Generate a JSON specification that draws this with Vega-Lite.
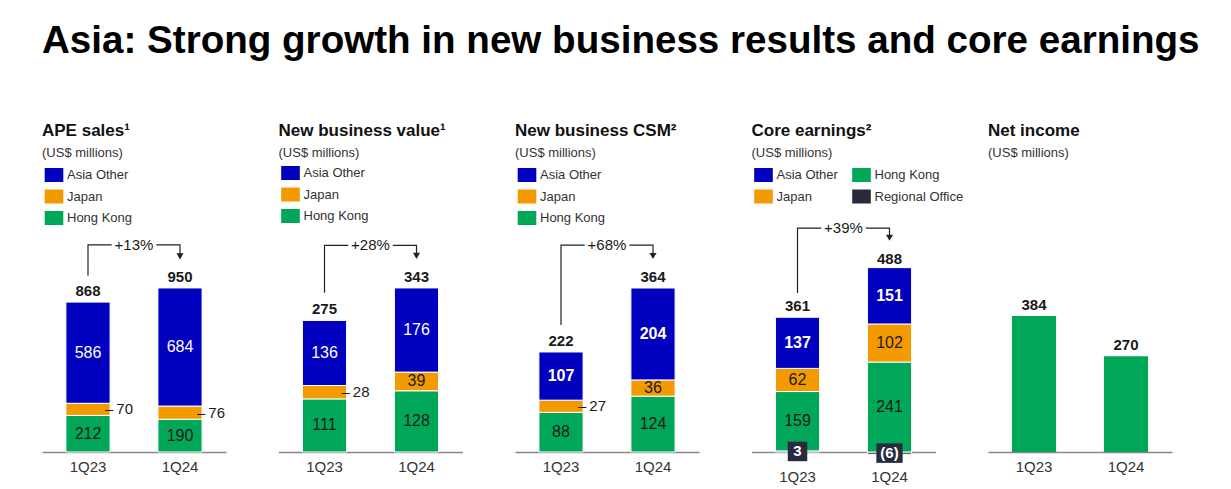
{
  "$schema": "https://vega.github.io/schema/vega-lite/v6.json",
  "padding": {"left": 42, "top": 21, "right": 5, "bottom": 5},
  "background": "white",
  "title": {"text": "Asia: Strong growth in new business results and core earnings", "fontSize": 38.6, "fontWeight": "bold", "color": "#000000", "anchor": "start", "offset": 60.5, "subtitle": ""},
  "config": {
    "font": "Liberation Sans",
    "view": {"stroke": null},
    "title": {"anchor": "start", "fontSize": 17, "fontWeight": "bold", "color": "#111111", "subtitleFontSize": 13, "subtitleColor": "#333333", "subtitlePadding": 7, "offset": 4},
    "axisX": {"title": null, "labelAngle": 0, "ticks": false, "labelFontSize": 15, "labelColor": "#333333", "domainColor": "#888888", "domainWidth": 1.5, "labelPadding": 7, "grid": false},
    "legend": {"title": null, "orient": "none", "legendX": 5, "legendY": 3, "symbolType": "M-1.33,-1L1.33,-1L1.33,1L-1.33,1Z", "symbolSize": 196, "symbolStrokeWidth": 0, "labelFontSize": 13, "labelColor": "#333333", "rowPadding": 7.5, "labelOffset": 6, "columnPadding": 13}
  },
  "spacing": 52.5,
  "bounds": "flush",
  "resolve": {"scale": {"color": "independent", "y": "independent", "x": "independent"}, "legend": {"color": "independent"}},
  "hconcat": [
    {
      "width": 184, "height": 287,
      "title": {"text": "APE sales¹", "subtitle": "(US$ millions)"},
      "data": {"values": [
        {"quarter": "1Q23", "segment": "Hong Kong", "value": 212},
        {"quarter": "1Q23", "segment": "Japan", "value": 70},
        {"quarter": "1Q23", "segment": "Asia Other", "value": 586},
        {"quarter": "1Q24", "segment": "Hong Kong", "value": 190},
        {"quarter": "1Q24", "segment": "Japan", "value": 76},
        {"quarter": "1Q24", "segment": "Asia Other", "value": 684}
      ]},
      "transform": [
        {"calculate": "indexof(['Hong Kong','Japan','Asia Other'], datum.segment)", "as": "ord"},
        {"stack": "value", "groupby": ["quarter"], "sort": [{"field": "ord", "order": "ascending"}], "as": ["v0", "v1"]},
        {"calculate": "(datum.v0 + datum.v1) / 2", "as": "mid"}
      ],
      "encoding": {"x": {"field": "quarter", "type": "nominal", "scale": {"paddingInner": 0.52, "paddingOuter": 0.26}, "axis": {}}},
      "layer": [
        {"mark": {"type": "bar", "stroke": "white", "strokeWidth": 1},
         "encoding": {
           "y": {"field": "v0", "type": "quantitative", "scale": {"domain": [0, 1662], "nice": false, "zero": false}, "axis": null},
           "y2": {"field": "v1"},
           "color": {"field": "segment", "type": "nominal", "scale": {"domain": ["Asia Other", "Japan", "Hong Kong"], "range": ["#0000BE", "#F39A00", "#00A758"]}, "legend": {}}
         }},
        {"transform": [{"filter": "datum.segment == 'Hong Kong'"}],
         "mark": {"type": "text", "fontSize": 16, "color": "#1a1a1a"},
         "encoding": {"y": {"field": "mid", "type": "quantitative"}, "text": {"field": "value"}}},
        {"transform": [{"filter": "datum.segment == 'Asia Other'"}],
         "mark": {"type": "text", "fontSize": 16, "color": "white"},
         "encoding": {"y": {"field": "mid", "type": "quantitative"}, "text": {"field": "value"}}},
        {"transform": [{"filter": "datum.segment == 'Japan'"}, {"calculate": "'–\u2009' + datum.value", "as": "lab"}],
         "mark": {"type": "text", "fontSize": 15, "align": "left", "dx": 17, "color": "#1a1a1a"},
         "encoding": {"y": {"field": "mid", "type": "quantitative"}, "text": {"field": "lab"}}},
        {"transform": [{"aggregate": [{"op": "sum", "field": "value", "as": "total"}], "groupby": ["quarter"]}],
         "mark": {"type": "text", "fontSize": 15, "fontWeight": "bold", "dy": -11, "color": "#1a1a1a"},
         "encoding": {"y": {"field": "total", "type": "quantitative"}, "text": {"field": "total"}}},
        {"data": {"values": [
            {"quarter": "1Q23", "step": 1, "y": 1020},
            {"quarter": "1Q23", "step": 2, "y": 1199},
            {"quarter": "1Q24", "step": 3, "y": 1199},
            {"quarter": "1Q24", "step": 4, "y": 1133}
          ]},
         "layer": [
           {"mark": {"type": "line", "color": "#222222", "strokeWidth": 1.2},
            "encoding": {"y": {"field": "y", "type": "quantitative"}, "order": {"field": "step"}}},
           {"transform": [{"filter": "datum.step == 4"}],
            "mark": {"type": "point", "shape": "triangle-down", "filled": true, "size": 50, "color": "#222222", "opacity": 1},
            "encoding": {"y": {"field": "y", "type": "quantitative"}}}
         ]},
        {"data": {"values": [{"quarter": "1Q23", "pct": "+13%", "y": 1199}]},
         "layer": [
           {"mark": {"type": "text", "fontSize": 15, "dx": 46, "stroke": "white", "strokeWidth": 7, "color": "white"},
            "encoding": {"y": {"field": "y", "type": "quantitative"}, "text": {"field": "pct"}}},
           {"mark": {"type": "text", "fontSize": 15, "dx": 46, "color": "#1a1a1a"},
            "encoding": {"y": {"field": "y", "type": "quantitative"}, "text": {"field": "pct"}}}
         ]}
      ]
    },
    {
      "width": 184, "height": 287,
      "title": {"text": "New business value¹", "subtitle": "(US$ millions)"},
      "data": {"values": [
        {"quarter": "1Q23", "segment": "Hong Kong", "value": 111},
        {"quarter": "1Q23", "segment": "Japan", "value": 28},
        {"quarter": "1Q23", "segment": "Asia Other", "value": 136},
        {"quarter": "1Q24", "segment": "Hong Kong", "value": 128},
        {"quarter": "1Q24", "segment": "Japan", "value": 39},
        {"quarter": "1Q24", "segment": "Asia Other", "value": 176}
      ]},
      "transform": [
        {"calculate": "indexof(['Hong Kong','Japan','Asia Other'], datum.segment)", "as": "ord"},
        {"stack": "value", "groupby": ["quarter"], "sort": [{"field": "ord", "order": "ascending"}], "as": ["v0", "v1"]},
        {"calculate": "(datum.v0 + datum.v1) / 2", "as": "mid"}
      ],
      "encoding": {"x": {"field": "quarter", "type": "nominal", "scale": {"paddingInner": 0.52, "paddingOuter": 0.26}, "axis": {}}},
      "layer": [
        {"mark": {"type": "bar", "stroke": "white", "strokeWidth": 1},
         "encoding": {
           "y": {"field": "v0", "type": "quantitative", "scale": {"domain": [0, 600], "nice": false, "zero": false}, "axis": null},
           "y2": {"field": "v1"},
           "color": {"field": "segment", "type": "nominal", "scale": {"domain": ["Asia Other", "Japan", "Hong Kong"], "range": ["#0000BE", "#F39A00", "#00A758"]}, "legend": {"legendY": 1}}
         }},
        {"transform": [{"filter": "datum.segment == 'Hong Kong' || (datum.segment == 'Japan' && datum.value >= 30)"}],
         "mark": {"type": "text", "fontSize": 16, "color": "#1a1a1a"},
         "encoding": {"y": {"field": "mid", "type": "quantitative"}, "text": {"field": "value"}}},
        {"transform": [{"filter": "datum.segment == 'Asia Other'"}],
         "mark": {"type": "text", "fontSize": 16, "color": "white"},
         "encoding": {"y": {"field": "mid", "type": "quantitative"}, "text": {"field": "value"}}},
        {"transform": [{"filter": "datum.segment == 'Japan' && datum.value < 30"}, {"calculate": "'–\u2009' + datum.value", "as": "lab"}],
         "mark": {"type": "text", "fontSize": 15, "align": "left", "dx": 17, "color": "#1a1a1a"},
         "encoding": {"y": {"field": "mid", "type": "quantitative"}, "text": {"field": "lab"}}},
        {"transform": [{"aggregate": [{"op": "sum", "field": "value", "as": "total"}], "groupby": ["quarter"]}],
         "mark": {"type": "text", "fontSize": 15, "fontWeight": "bold", "dy": -11, "color": "#1a1a1a"},
         "encoding": {"y": {"field": "total", "type": "quantitative"}, "text": {"field": "total"}}},
        {"data": {"values": [
            {"quarter": "1Q23", "step": 1, "y": 333},
            {"quarter": "1Q23", "step": 2, "y": 432},
            {"quarter": "1Q24", "step": 3, "y": 432},
            {"quarter": "1Q24", "step": 4, "y": 410}
          ]},
         "layer": [
           {"mark": {"type": "line", "color": "#222222", "strokeWidth": 1.2},
            "encoding": {"y": {"field": "y", "type": "quantitative"}, "order": {"field": "step"}}},
           {"transform": [{"filter": "datum.step == 4"}],
            "mark": {"type": "point", "shape": "triangle-down", "filled": true, "size": 50, "color": "#222222", "opacity": 1},
            "encoding": {"y": {"field": "y", "type": "quantitative"}}}
         ]},
        {"data": {"values": [{"quarter": "1Q23", "pct": "+28%", "y": 432}]},
         "layer": [
           {"mark": {"type": "text", "fontSize": 15, "dx": 46, "stroke": "white", "strokeWidth": 7, "color": "white"},
            "encoding": {"y": {"field": "y", "type": "quantitative"}, "text": {"field": "pct"}}},
           {"mark": {"type": "text", "fontSize": 15, "dx": 46, "color": "#1a1a1a"},
            "encoding": {"y": {"field": "y", "type": "quantitative"}, "text": {"field": "pct"}}}
         ]}
      ]
    },
    {
      "width": 184, "height": 287,
      "title": {"text": "New business CSM²", "subtitle": "(US$ millions)"},
      "data": {"values": [
        {"quarter": "1Q23", "segment": "Hong Kong", "value": 88},
        {"quarter": "1Q23", "segment": "Japan", "value": 27},
        {"quarter": "1Q23", "segment": "Asia Other", "value": 107},
        {"quarter": "1Q24", "segment": "Hong Kong", "value": 124},
        {"quarter": "1Q24", "segment": "Japan", "value": 36},
        {"quarter": "1Q24", "segment": "Asia Other", "value": 204}
      ]},
      "transform": [
        {"calculate": "indexof(['Hong Kong','Japan','Asia Other'], datum.segment)", "as": "ord"},
        {"stack": "value", "groupby": ["quarter"], "sort": [{"field": "ord", "order": "ascending"}], "as": ["v0", "v1"]},
        {"calculate": "(datum.v0 + datum.v1) / 2", "as": "mid"}
      ],
      "encoding": {"x": {"field": "quarter", "type": "nominal", "scale": {"paddingInner": 0.52, "paddingOuter": 0.26}, "axis": {}}},
      "layer": [
        {"mark": {"type": "bar", "stroke": "white", "strokeWidth": 1},
         "encoding": {
           "y": {"field": "v0", "type": "quantitative", "scale": {"domain": [0, 637], "nice": false, "zero": false}, "axis": null},
           "y2": {"field": "v1"},
           "color": {"field": "segment", "type": "nominal", "scale": {"domain": ["Asia Other", "Japan", "Hong Kong"], "range": ["#0000BE", "#F39A00", "#00A758"]}, "legend": {}}
         }},
        {"transform": [{"filter": "datum.segment == 'Hong Kong' || (datum.segment == 'Japan' && datum.value >= 30)"}],
         "mark": {"type": "text", "fontSize": 16, "color": "#1a1a1a"},
         "encoding": {"y": {"field": "mid", "type": "quantitative"}, "text": {"field": "value"}}},
        {"transform": [{"filter": "datum.segment == 'Asia Other'"}],
         "mark": {"type": "text", "fontSize": 16, "fontWeight": "bold", "color": "white"},
         "encoding": {"y": {"field": "mid", "type": "quantitative"}, "text": {"field": "value"}}},
        {"transform": [{"filter": "datum.segment == 'Japan' && datum.value < 30"}, {"calculate": "'–\u2009' + datum.value", "as": "lab"}],
         "mark": {"type": "text", "fontSize": 15, "align": "left", "dx": 17, "color": "#1a1a1a"},
         "encoding": {"y": {"field": "mid", "type": "quantitative"}, "text": {"field": "lab"}}},
        {"transform": [{"aggregate": [{"op": "sum", "field": "value", "as": "total"}], "groupby": ["quarter"]}],
         "mark": {"type": "text", "fontSize": 15, "fontWeight": "bold", "dy": -11, "color": "#1a1a1a"},
         "encoding": {"y": {"field": "total", "type": "quantitative"}, "text": {"field": "total"}}},
        {"data": {"values": [
            {"quarter": "1Q23", "step": 1, "y": 282},
            {"quarter": "1Q23", "step": 2, "y": 459},
            {"quarter": "1Q24", "step": 3, "y": 459},
            {"quarter": "1Q24", "step": 4, "y": 435}
          ]},
         "layer": [
           {"mark": {"type": "line", "color": "#222222", "strokeWidth": 1.2},
            "encoding": {"y": {"field": "y", "type": "quantitative"}, "order": {"field": "step"}}},
           {"transform": [{"filter": "datum.step == 4"}],
            "mark": {"type": "point", "shape": "triangle-down", "filled": true, "size": 50, "color": "#222222", "opacity": 1},
            "encoding": {"y": {"field": "y", "type": "quantitative"}}}
         ]},
        {"data": {"values": [{"quarter": "1Q23", "pct": "+68%", "y": 459}]},
         "layer": [
           {"mark": {"type": "text", "fontSize": 15, "dx": 46, "stroke": "white", "strokeWidth": 7, "color": "white"},
            "encoding": {"y": {"field": "y", "type": "quantitative"}, "text": {"field": "pct"}}},
           {"mark": {"type": "text", "fontSize": 15, "dx": 46, "color": "#1a1a1a"},
            "encoding": {"y": {"field": "y", "type": "quantitative"}, "text": {"field": "pct"}}}
         ]}
      ]
    },
    {
      "width": 184, "height": 287,
      "title": {"text": "Core earnings²", "subtitle": "(US$ millions)"},
      "data": {"values": [
        {"quarter": "1Q23", "segment": "Regional Office", "value": 3},
        {"quarter": "1Q23", "segment": "Hong Kong", "value": 159},
        {"quarter": "1Q23", "segment": "Japan", "value": 62},
        {"quarter": "1Q23", "segment": "Asia Other", "value": 137},
        {"quarter": "1Q24", "segment": "Regional Office", "value": -6},
        {"quarter": "1Q24", "segment": "Hong Kong", "value": 241},
        {"quarter": "1Q24", "segment": "Japan", "value": 102},
        {"quarter": "1Q24", "segment": "Asia Other", "value": 151}
      ]},
      "transform": [
        {"calculate": "indexof(['Regional Office','Hong Kong','Japan','Asia Other'], datum.segment)", "as": "ord"},
        {"stack": "value", "groupby": ["quarter"], "sort": [{"field": "ord", "order": "ascending"}], "as": ["v0", "v1"]},
        {"calculate": "(datum.v0 + datum.v1) / 2", "as": "mid"}
      ],
      "encoding": {"x": {"field": "quarter", "type": "nominal", "scale": {"paddingInner": 0.52, "paddingOuter": 0.26}, "axis": {"labelPadding": 17}}},
      "layer": [
        {"mark": {"type": "bar", "stroke": "white", "strokeWidth": 1, "clip": false},
         "encoding": {
           "y": {"field": "v0", "type": "quantitative", "scale": {"domain": [0, 769], "nice": false, "zero": false}, "axis": null},
           "y2": {"field": "v1"},
           "color": {"field": "segment", "type": "nominal", "scale": {"domain": ["Asia Other", "Japan", "Hong Kong", "Regional Office"], "range": ["#0000BE", "#F39A00", "#00A758", "#282B3E"]}, "legend": {"columns": 2}}
         }},
        {"transform": [{"filter": "datum.segment == 'Hong Kong' || datum.segment == 'Japan'"}],
         "mark": {"type": "text", "fontSize": 16, "color": "#1a1a1a"},
         "encoding": {"y": {"field": "mid", "type": "quantitative"}, "text": {"field": "value"}}},
        {"transform": [{"filter": "datum.segment == 'Asia Other'"}],
         "mark": {"type": "text", "fontSize": 16, "fontWeight": "bold", "color": "white"},
         "encoding": {"y": {"field": "mid", "type": "quantitative"}, "text": {"field": "value"}}},
        {"transform": [{"filter": "datum.segment == 'Regional Office'"}],
         "layer": [
           {"mark": {"type": "point", "filled": true, "size": 380, "color": "#282B3E", "opacity": 1},
            "encoding": {"y": {"field": "mid", "type": "quantitative"},
              "shape": {"condition": {"test": "datum.value < 0", "value": "M-1.35,-1L1.35,-1L1.35,1L-1.35,1Z"}, "value": "square"}}},
           {"mark": {"type": "text", "fontSize": 15, "fontWeight": "bold", "color": "white"},
            "encoding": {"y": {"field": "mid", "type": "quantitative"}, "text": {"field": "value", "format": "(d"}}}
         ]},
        {"transform": [{"aggregate": [{"op": "sum", "field": "value", "as": "total"}], "groupby": ["quarter"]}],
         "mark": {"type": "text", "fontSize": 15, "fontWeight": "bold", "dy": -11, "color": "#1a1a1a"},
         "encoding": {"y": {"field": "total", "type": "quantitative"}, "text": {"field": "total"}}},
        {"data": {"values": [
            {"quarter": "1Q23", "step": 1, "y": 426},
            {"quarter": "1Q23", "step": 2, "y": 600},
            {"quarter": "1Q24", "step": 3, "y": 600},
            {"quarter": "1Q24", "step": 4, "y": 574}
          ]},
         "layer": [
           {"mark": {"type": "line", "color": "#222222", "strokeWidth": 1.2},
            "encoding": {"y": {"field": "y", "type": "quantitative"}, "order": {"field": "step"}}},
           {"transform": [{"filter": "datum.step == 4"}],
            "mark": {"type": "point", "shape": "triangle-down", "filled": true, "size": 50, "color": "#222222", "opacity": 1},
            "encoding": {"y": {"field": "y", "type": "quantitative"}}}
         ]},
        {"data": {"values": [{"quarter": "1Q23", "pct": "+39%", "y": 600}]},
         "layer": [
           {"mark": {"type": "text", "fontSize": 15, "dx": 46, "stroke": "white", "strokeWidth": 7, "color": "white"},
            "encoding": {"y": {"field": "y", "type": "quantitative"}, "text": {"field": "pct"}}},
           {"mark": {"type": "text", "fontSize": 15, "dx": 46, "color": "#1a1a1a"},
            "encoding": {"y": {"field": "y", "type": "quantitative"}, "text": {"field": "pct"}}}
         ]}
      ]
    },
    {
      "width": 184, "height": 287,
      "title": {"text": "Net income", "subtitle": "(US$ millions)"},
      "data": {"values": [
        {"quarter": "1Q23", "value": 384},
        {"quarter": "1Q24", "value": 270}
      ]},
      "encoding": {
        "x": {"field": "quarter", "type": "nominal", "scale": {"paddingInner": 0.52, "paddingOuter": 0.26}, "axis": {}},
        "y": {"field": "value", "type": "quantitative", "scale": {"domain": [0, 810], "nice": false}, "axis": null}
      },
      "layer": [
        {"mark": {"type": "bar", "color": "#00A758"}},
        {"mark": {"type": "text", "fontSize": 15, "fontWeight": "bold", "dy": -11, "color": "#1a1a1a"},
         "encoding": {"text": {"field": "value"}}}
      ]
    }
  ]
}
